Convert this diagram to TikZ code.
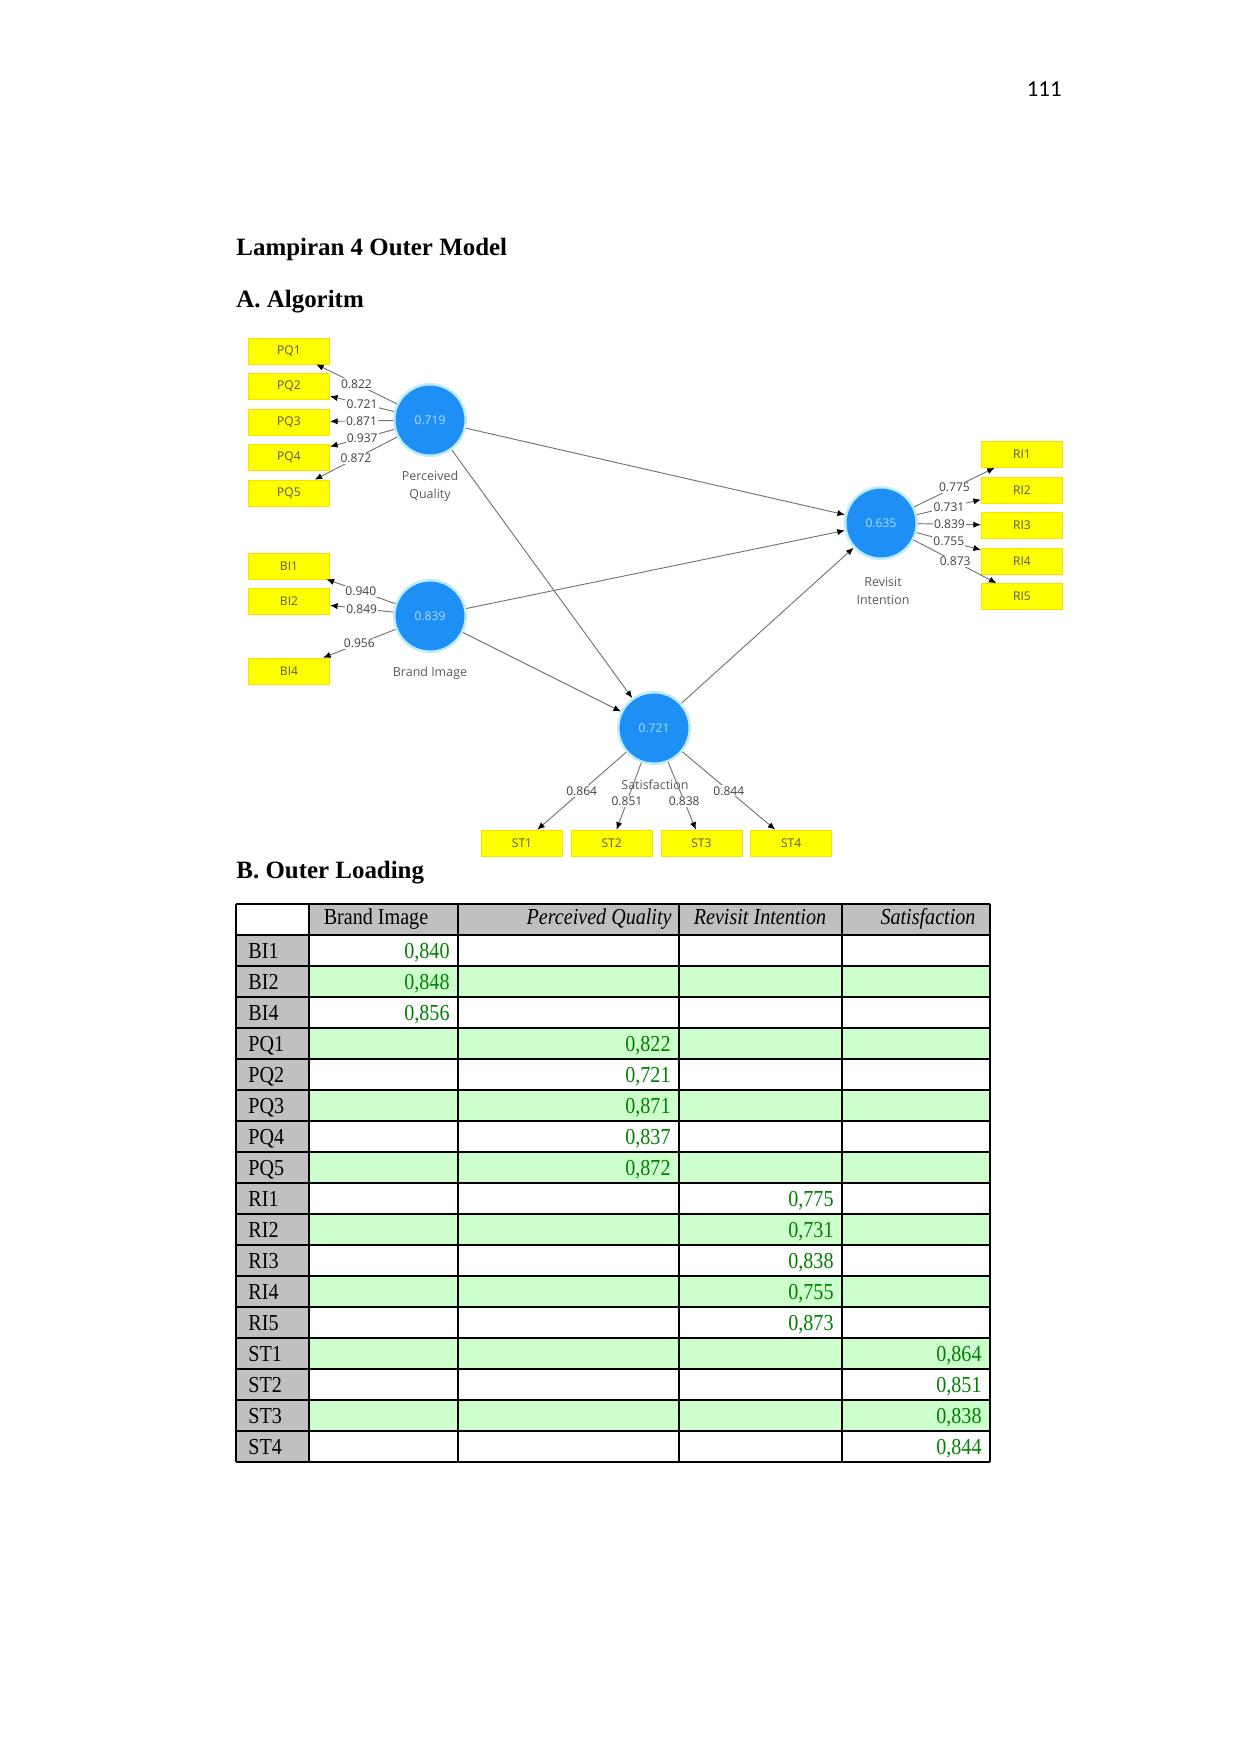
\documentclass[tikz,border=0pt]{standalone}
\usepackage{fontspec}
\setmainfont{Liberation Serif}
\newfontfamily\plsfont{Open Sans}
\newfontfamily\tabfont[FakeStretch=0.88]{Liberation Serif}
\newfontfamily\pagefont{Carlito}
\usetikzlibrary{arrows.meta}
\definecolor{lvblue}{RGB}{30,144,245}
\definecolor{lvglow}{RGB}{190,235,255}
\definecolor{lvtext}{RGB}{175,220,255}
\definecolor{indyellow}{RGB}{255,255,0}
\definecolor{pathgray}{RGB}{115,115,115}
\definecolor{tabgray}{RGB}{192,192,192}
\definecolor{tabgreen}{RGB}{204,255,204}
\definecolor{valgreen}{RGB}{0,128,0}

\begin{document}
\begin{tikzpicture}[x=0.016922cm, y=-0.016922cm,
	latent/.style={circle, fill=lvblue, draw=lvglow, line width=1.2pt, minimum size=1.21cm, inner sep=0pt, text=lvtext, font=\plsfont\fontsize{5.8}{7}\selectfont},
	indicator/.style={rectangle, fill=indyellow, draw=yellow!80!orange, line width=0.3pt, minimum width=1.38cm, minimum height=0.44cm, inner sep=0pt, text=black!65, font=\plsfont\fontsize{5.8}{7}\selectfont},
	lvname/.style={align=center, text=black!65, font=\plsfont\fontsize{6}{8.6}\selectfont},
	loading/.style={fill=white, inner sep=0.6pt, text=black!75, font=\plsfont\fontsize{5.8}{7}\selectfont},
	relation/.style={draw=pathgray, line width=0.45pt, -{Latex[length=3.6pt,width=3pt,color=black]}},
	heading/.style={anchor=base west, inner sep=0pt, font=\bfseries\fontsize{12}{14}\selectfont},
	cell/.style={anchor=base, inner sep=0pt, font=\tabfont\fontsize{11}{13}\selectfont},
	grid/.style={line width=0.6pt}]
\useasboundingbox (0,0) rectangle (1241,1756);

\node[anchor=base east, inner sep=0pt, font=\pagefont\fontsize{11}{13}\selectfont] (pageno) at (1062,97) {111};
\node[heading] (title) at (236,256) {Lampiran 4 Outer Model};
\node[heading] (secA) at (236,308) {A. Algoritm};
\node[heading] (secB) at (236,878) {B. Outer Loading};

\node[latent] (pq) at (430,420) {0.719};
\node[latent] (bi) at (430,616) {0.839};
\node[latent] (ri) at (881,523) {0.635};
\node[latent] (st) at (654,728) {0.721};

\foreach \n in {1,...,5} {
	\node[indicator] (pq\n) at (289,{351+35.5*(\n-1)}) {PQ\n};
	\node[indicator] (ri\n) at (1022,{454.5+35.5*(\n-1)}) {RI\n};
}
\foreach \n/\y in {1/566,2/601,4/671} \node[indicator] (bi\n) at (289,\y) {BI\n};
\foreach \n in {1,...,4} \node[indicator, minimum width=1.37cm] (st\n) at ({522+89.7*(\n-1)},843) {ST\n};

\draw[relation] (pq) -- (ri);
\draw[relation] (bi) -- (ri);
\draw[relation] (st) -- (ri);
\draw[relation] (pq) -- (st);
\draw[relation] (bi) -- (st);

\foreach \n/\v in {1/0.822,2/0.721,3/0.871,4/0.937,5/0.872} \draw[relation] (pq) -- node[loading] (lpq\n) {\v} (pq\n);
\foreach \n/\v in {1/0.940,2/0.849,4/0.956} \draw[relation] (bi) -- node[loading] (lbi\n) {\v} (bi\n);
\foreach \n/\v in {1/0.775,2/0.731,3/0.839,4/0.755,5/0.873} \draw[relation] (ri) -- node[loading] (lri\n) {\v} (ri\n);
\foreach \n/\v/\p in {1/0.864/0.5,2/0.851/0.58,3/0.838/0.58,4/0.844/0.5} \draw[relation] (st) -- node[loading, pos=\p] (lst\n) {\v} (st\n);

\node[lvname] (pqname) at (430,486) {Perceived\\Quality};
\node[lvname] (biname) at (430,673) {Brand Image};
\node[lvname] (riname) at (883,591) {Revisit\\Intention};
\node[lvname] (stname) at (655,785) {Satisfaction};

\fill[tabgray] (309,904) rectangle (990,935);
\fill[tabgray] (236,935) rectangle (309,1462);
\foreach \i in {2,4,...,16} \fill[tabgreen] (309,{935+31*(\i-1)}) rectangle (990,{935+31*\i});
\foreach \x in {236,309,458,679,842,990} \draw[grid] (\x,904) -- (\x,1462);
\draw[grid] (236,904) -- (990,904);
\foreach \i in {0,...,17} \draw[grid] (236,{935+31*\i}) -- (990,{935+31*\i});

\node[cell] (hbi) at (376,924) {Brand Image};
\node[cell, anchor=base east] (hpq) at (672,924) {\itshape Perceived Quality};
\node[cell] (hri) at (760,924) {\itshape Revisit Intention};
\node[cell] (hst) at (928,924) {\itshape Satisfaction};

\foreach \lab/\c/\val [count=\i] in {BI1/458/{0,840},BI2/458/{0,848},BI4/458/{0,856},
		PQ1/679/{0,822},PQ2/679/{0,721},PQ3/679/{0,871},PQ4/679/{0,837},PQ5/679/{0,872},
		RI1/842/{0,775},RI2/842/{0,731},RI3/842/{0,838},RI4/842/{0,755},RI5/842/{0,873},
		ST1/990/{0,864},ST2/990/{0,851},ST3/990/{0,838},ST4/990/{0,844}} {
	\node[cell, anchor=base west] (r\i) at (248,{958+31*(\i-1)}) {\lab};
	\node[cell, anchor=base east, text=valgreen] (v\i) at ({\c-8},{958+31*(\i-1)}) {\val};
}

\end{tikzpicture}
\end{document}
